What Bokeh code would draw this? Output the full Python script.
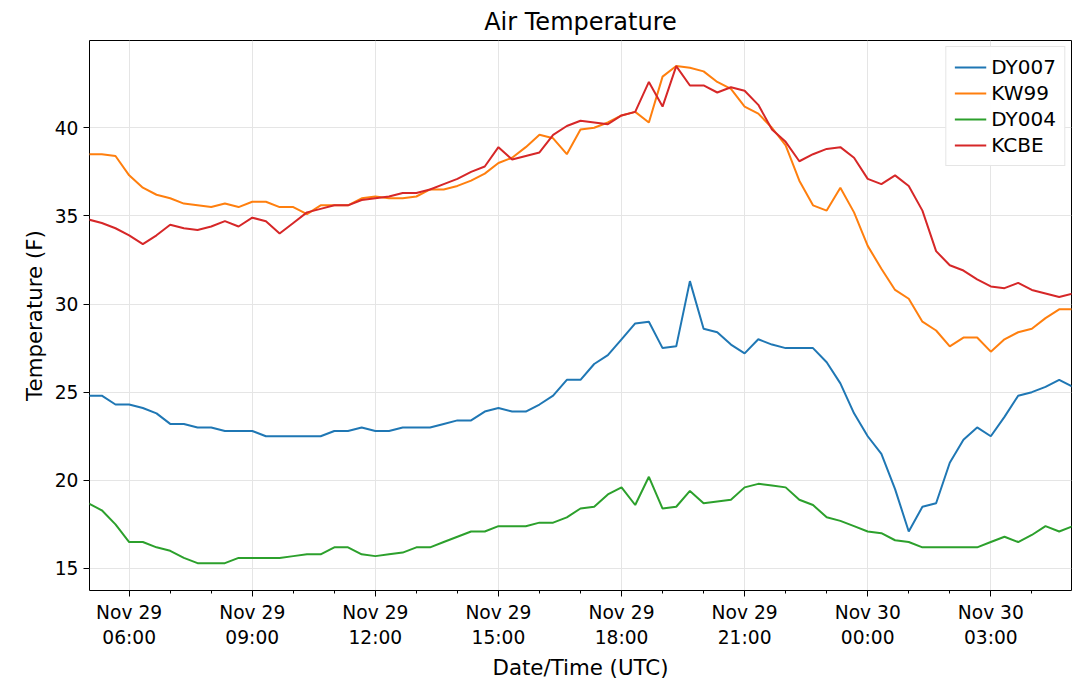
import pandas as pd
from bokeh.plotting import figure
from bokeh.models import FixedTicker, DatetimeTickFormatter, Range1d, Legend
from bokeh.embed import file_html
from bokeh.resources import INLINE

# 20-minute samples, Nov 29 05:00 UTC to Nov 30 05:00 UTC
times = pd.date_range("2018-11-29 05:00", "2018-11-30 05:00", freq="20min")

dy007 = [24.8, 24.8, 24.3, 24.3, 24.1, 23.8, 23.2, 23.2, 23.0, 23.0, 22.8, 22.8,
         22.8, 22.5, 22.5, 22.5, 22.5, 22.5, 22.8, 22.8, 23.0, 22.8, 22.8, 23.0,
         23.0, 23.0, 23.2, 23.4, 23.4, 23.9, 24.1, 23.9, 23.9, 24.3, 24.8, 25.7,
         25.7, 26.6, 27.1, 28.0, 28.9, 29.0, 27.5, 27.6, 31.3, 28.6, 28.4, 27.7,
         27.2, 28.0, 27.7, 27.5, 27.5, 27.5, 26.7, 25.5, 23.8, 22.5, 21.5, 19.5,
         17.1, 18.5, 18.7, 21.0, 22.3, 23.0, 22.5, 23.6, 24.8, 25.0, 25.3, 25.7, 25.3]
kw99 = [38.5, 38.5, 38.4, 37.3, 36.6, 36.2, 36.0, 35.7, 35.6, 35.5, 35.7, 35.5,
        35.8, 35.8, 35.5, 35.5, 35.1, 35.6, 35.6, 35.6, 36.0, 36.1, 36.0, 36.0,
        36.1, 36.5, 36.5, 36.7, 37.0, 37.4, 38.0, 38.3, 38.9, 39.6, 39.4, 38.5,
        39.9, 40.0, 40.3, 40.7, 40.9, 40.3, 42.9, 43.5, 43.4, 43.2, 42.6, 42.2,
        41.2, 40.8, 40.0, 39.0, 37.0, 35.6, 35.3, 36.6, 35.2, 33.3, 32.0, 30.8,
        30.3, 29.0, 28.5, 27.6, 28.1, 28.1, 27.3, 28.0, 28.4, 28.6, 29.2, 29.7, 29.7]
dy004 = [18.7, 18.3, 17.5, 16.5, 16.5, 16.2, 16.0, 15.6, 15.3, 15.3, 15.3, 15.6,
         15.6, 15.6, 15.6, 15.7, 15.8, 15.8, 16.2, 16.2, 15.8, 15.7, 15.8, 15.9,
         16.2, 16.2, 16.5, 16.8, 17.1, 17.1, 17.4, 17.4, 17.4, 17.6, 17.6, 17.9,
         18.4, 18.5, 19.2, 19.6, 18.6, 20.2, 18.4, 18.5, 19.4, 18.7, 18.8, 18.9,
         19.6, 19.8, 19.7, 19.6, 18.9, 18.6, 17.9, 17.7, 17.4, 17.1, 17.0, 16.6,
         16.5, 16.2, 16.2, 16.2, 16.2, 16.2, 16.5, 16.8, 16.5, 16.9, 17.4, 17.1, 17.4]
kcbe = [34.8, 34.6, 34.3, 33.9, 33.4, 33.9, 34.5, 34.3, 34.2, 34.4, 34.7, 34.4,
        34.9, 34.7, 34.0, 34.6, 35.2, 35.4, 35.6, 35.6, 35.9, 36.0, 36.1, 36.3,
        36.3, 36.5, 36.8, 37.1, 37.5, 37.8, 38.9, 38.2, 38.4, 38.6, 39.6, 40.1,
        40.4, 40.3, 40.2, 40.7, 40.9, 42.6, 41.2, 43.5, 42.4, 42.4, 42.0, 42.3,
        42.1, 41.3, 39.9, 39.2, 38.1, 38.5, 38.8, 38.9, 38.3, 37.1, 36.8, 37.3,
        36.7, 35.3, 33.0, 32.2, 31.9, 31.4, 31.0, 30.9, 31.2, 30.8, 30.6, 30.4, 30.6]

series = [("DY007", dy007, "#1f77b4"), ("KW99", kw99, "#ff7f0e"),
          ("DY004", dy004, "#2ca02c"), ("KCBE", kcbe, "#d62728")]


def ms(s):
    return pd.Timestamp(s).value // 10**6


major = [ms(t) for t in pd.date_range("2018-11-29 06:00", "2018-11-30 03:00", freq="3h")]
minor = [ms(t) for t in pd.date_range("2018-11-29 05:00", "2018-11-30 05:00", freq="1h")]

font = "DejaVu Sans"
p = figure(frame_width=982, frame_height=550, x_axis_type="datetime",
           output_backend="svg", toolbar_location=None, tools="",
           title="Air Temperature",
           x_range=Range1d(ms("2018-11-29 05:02"), ms("2018-11-30 04:58")),
           y_range=Range1d(13.75, 44.95), min_border_left=89, min_border_right=2,
           min_border_top=12)

renderers = []
for name, vals, color in series:
    r = p.line(times, vals, line_color=color, line_width=2)
    renderers.append((name, [r]))

legend = Legend(items=renderers, location="top_right", label_text_font=font,
                label_text_font_size="15pt", label_text_color="black",
                border_line_color="#cccccc",
                border_line_width=1, padding=8, spacing=2, glyph_width=32,
                margin=6)
p.add_layout(legend)

p.title.align = "center"
p.title.text_font = font
p.title.text_font_size = "18pt"
p.title.text_font_style = "normal"
p.title.text_color = "black"
p.title.standoff = 10
p.title.offset = 0

p.xaxis.ticker = FixedTicker(ticks=major, minor_ticks=minor)
fmt = "%b %d\n%H:%M"
p.xaxis.formatter = DatetimeTickFormatter(minutes=fmt, hourmin=fmt, hours=fmt,
                                          days=fmt, months=fmt, years=fmt)
p.yaxis.ticker = FixedTicker(ticks=[15, 20, 25, 30, 35, 40],
                             minor_ticks=[])
p.xaxis.axis_label = "Date/Time (UTC)"
p.yaxis.axis_label = "Temperature (F)"
for ax in (p.xaxis, p.yaxis):
    ax.axis_label_text_font = font
    ax.axis_label_text_font_size = "16pt"
    ax.axis_label_text_font_style = "normal"
    ax.axis_label_text_color = "black"
    ax.major_label_text_font = font
    ax.major_label_text_font_size = "14pt"
    ax.major_label_text_color = "black"
    ax.axis_line_color = None
    ax.major_tick_in = 0
    ax.major_tick_out = 6
    ax.minor_tick_in = 0
    ax.minor_tick_out = 3
p.xaxis.axis_label_standoff = 4

p.grid.grid_line_color = "#e5e5e5"
p.outline_line_color = "black"
p.outline_line_width = 1

open("out.html", "w").write(file_html(p, INLINE))
